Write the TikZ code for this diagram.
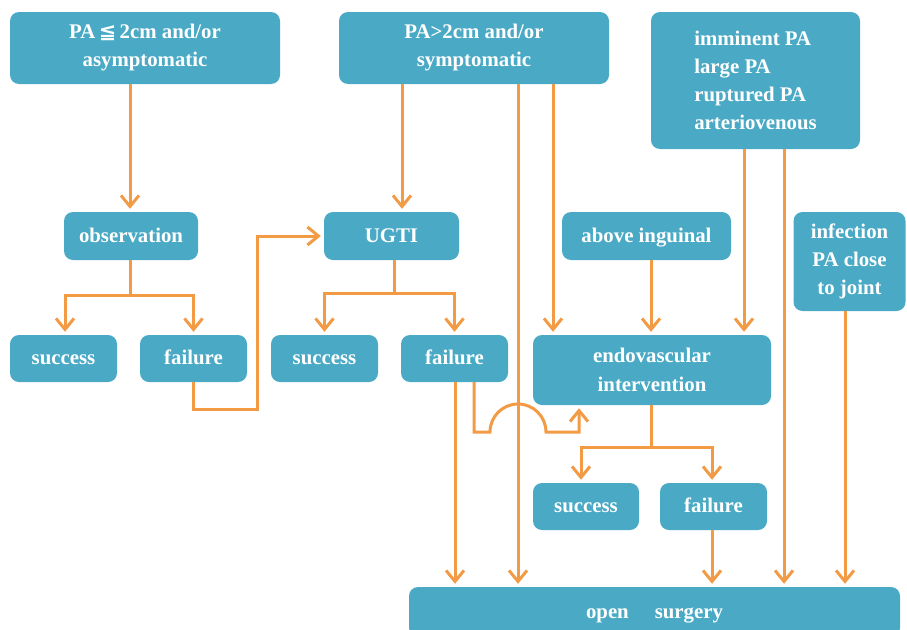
\documentclass[tikz,border=0pt]{standalone}
\usepackage{fontspec}
\setmainfont{Liberation Serif}
\newfontfamily\symfont{DejaVu Sans}
\usetikzlibrary{arrows.meta}
\definecolor{boxblue}{HTML}{4AAAC5}
\definecolor{linor}{HTML}{F39A45}
\tikzset{
  box/.style={fill=boxblue, draw=none, rounded corners=9pt, inner sep=0pt,
    text=white, font=\fontsize{20.8}{28}\selectfont\bfseries, align=center},
  one/.style={text height=15pt, text depth=3pt},
  line/.style={draw=linor, line width=3pt},
  arr/.style={line, -{Straight Barb[length=11pt,width=18pt,line width=3pt]}, shorten >=3pt},
}
\begin{document}
\begin{tikzpicture}[x=1pt,y=-1pt]
\useasboundingbox (0,0) rectangle (907,629);
\clip (0,0) rectangle (907,629);
% boxes
\node[box, minimum width=270pt, minimum height=72pt] (A) at (145,48) {PA\,{\symfont ≦}\,2cm and/or\\asymptomatic};
\node[box, minimum width=270pt, minimum height=72pt] (B) at (474,48) {PA>2cm and/or\\symptomatic};
\node[box, minimum width=209pt, minimum height=137pt, align=left] (C) at (755.5,80.5) {imminent PA\\large PA\\ruptured PA\\arteriovenous};
\node[box, one, minimum width=134pt, minimum height=48pt] (obs) at (131,236) {observation};
\node[box, one, minimum width=135pt, minimum height=48pt] (ugti) at (391.5,236) {UGTI};
\node[box, one, minimum width=169pt, minimum height=48pt] (above) at (646.5,236) {above inguinal};
\node[box, minimum width=112pt, minimum height=99pt] (inf) at (849.5,261.5) {infection\\PA close\\to joint};
\node[box, one, minimum width=107pt, minimum height=47pt] (s1) at (63.5,358.5) {success};
\node[box, one, minimum width=107pt, minimum height=47pt] (f1) at (193.5,358.5) {failure};
\node[box, one, minimum width=107pt, minimum height=47pt] (s2) at (324.5,358.5) {success};
\node[box, one, minimum width=107pt, minimum height=47pt] (f2) at (454.5,358.5) {failure};
\node[box, minimum width=238pt, minimum height=70pt, font=\fontsize{20.8}{29}\selectfont\bfseries] (endo) at (652,370) {endovascular\\intervention};
\node[box, one, minimum width=106pt, minimum height=47pt] (s3) at (586,506.5) {success};
\node[box, one, minimum width=107pt, minimum height=47pt] (f3) at (713.5,506.5) {failure};
\node[box, one, minimum width=491pt, minimum height=50pt] (open) at (654.5,612) {open\hspace{1em} surgery};
% connectors
\draw[arr] (A.south -| 130,0) -- (obs.north -| 130,0);
\draw[line] (obs.south -| 130,0) -- (130,295);
\draw[arr] (130,295) -| (s1.north -| 65,0);
\draw[arr] (130,295) -| (f1.north);
\draw[arr] (f1.south) |- (257,409) |- (ugti.west);
\draw[arr] (B.south -| 402,0) -- (ugti.north -| 402,0);
\draw[line] (ugti.south -| 394,0) -- (394,293);
\draw[arr] (394,293) -| (s2.north);
\draw[arr] (394,293) -| (f2.north);
\draw[arr] (B.south -| 518,0) -- (open.north -| 518,0);
\draw[arr] (B.south -| 553,0) -- (endo.north -| 553,0);
\draw[arr] (f2.south -| 455,0) -- (open.north -| 455,0);
\draw[arr] (f2.south -| 474,0) -- (474,432) -- (490,432) arc (180:360:28) -- (579,432) -- (endo.south -| 579,0);
\draw[arr] (above.south -| 651,0) -- (endo.north -| 651,0);
\draw[arr] (C.south -| 744,0) -- (endo.north -| 744,0);
\draw[arr] (C.south -| 784,0) -- (open.north -| 784,0);
\draw[arr] (inf.south -| 845,0) -- (open.north -| 845,0);
\draw[line] (endo.south -| 651,0) -- (651,447);
\draw[arr] (651,447) -| (s3.north -| 581,0);
\draw[arr] (651,447) -| (f3.north -| 712,0);
\draw[arr] (f3.south -| 712,0) -- (open.north -| 712,0);
\end{tikzpicture}
\end{document}
